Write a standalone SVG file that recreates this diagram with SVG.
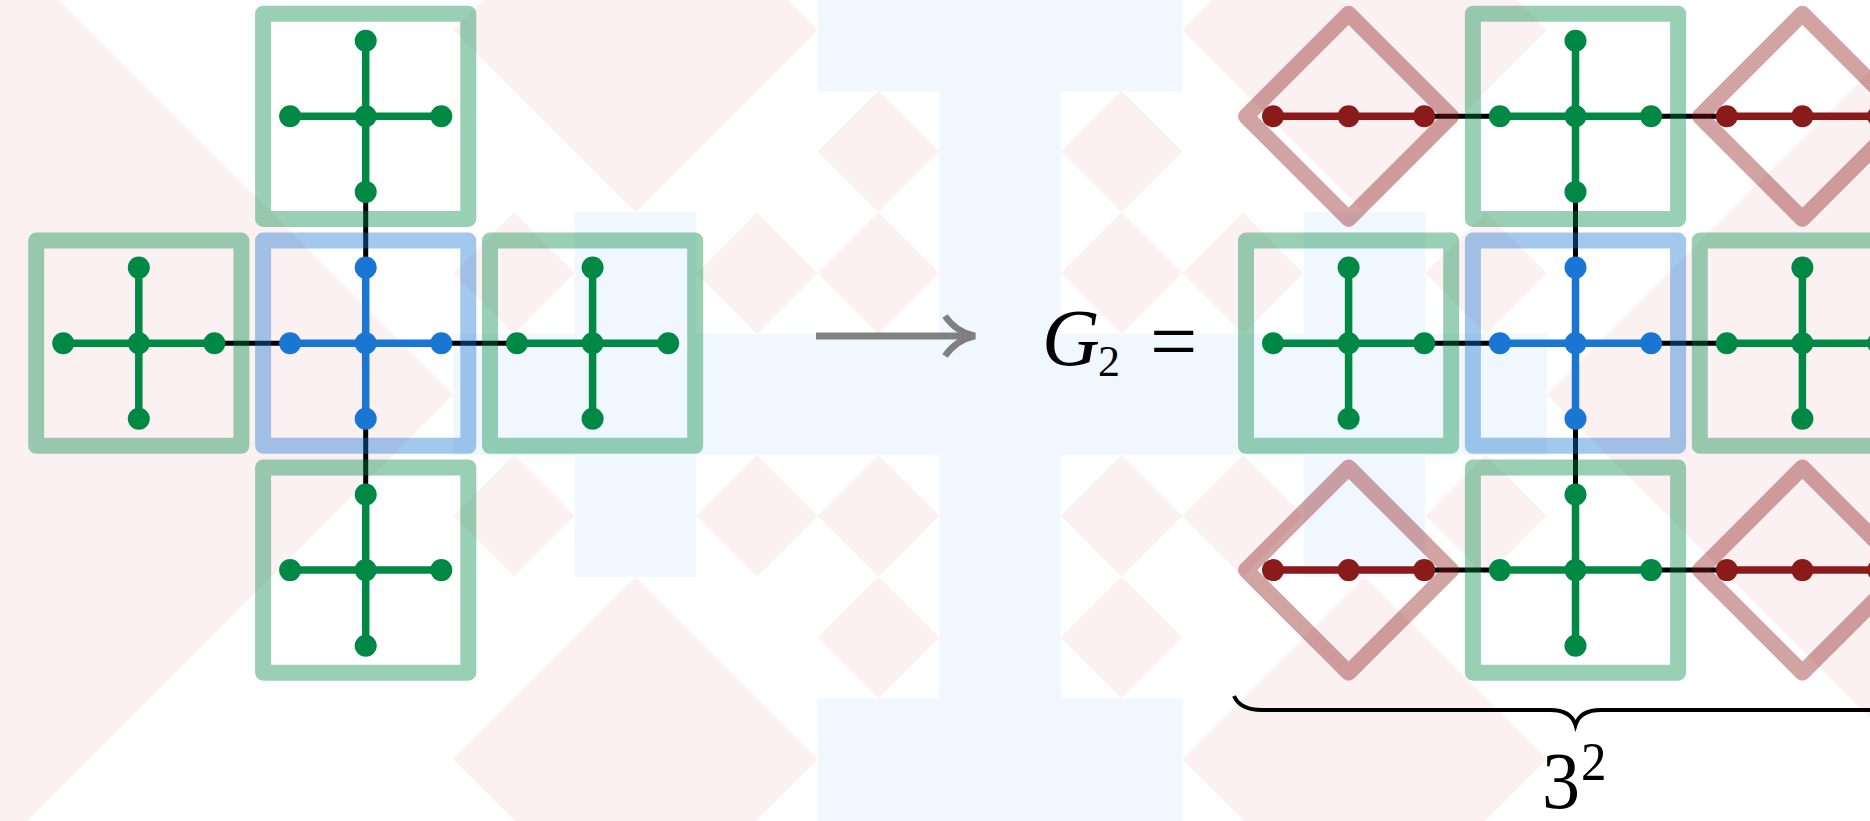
<svg xmlns="http://www.w3.org/2000/svg" width="1870" height="821" viewBox="0 0 1870 821">
<style>
.pk{fill:#fcf1f2}
.bl{fill:#f0f7fe}
.box{fill:none;stroke-width:16;stroke-linejoin:round;stroke-opacity:0.4}
.gs{stroke:#008945}.bs{stroke:#1976D2}.rs{stroke:#8B1A1A}
.gf{fill:#008945}.bf{fill:#1976D2}.rf{fill:#8B1A1A}
.e{fill:none;stroke-width:7.5}
.c{fill:none;stroke:#000;stroke-width:5}
.t{font-family:"Liberation Serif","Times New Roman",serif;fill:#000}
</style>
<defs>
<path id="sd" d="M0,-60.75 L60.75,0 L0,60.75 L-60.75,0 Z"/>
<path id="bd" d="M0,-182.25 L182.25,0 L0,182.25 L-182.25,0 Z"/>
<path id="hd" d="M0,-546.75 L546.75,0 L0,546.75 L-546.75,0 Z"/>
<g id="gcross">
<path class="e gs" d="M-75.6,0 H75.6 M0,-75.6 V75.6"/>
<circle class="gf" cx="0" cy="0" r="11"/><circle class="gf" cx="-75.6" cy="0" r="11"/><circle class="gf" cx="75.6" cy="0" r="11"/><circle class="gf" cx="0" cy="-75.6" r="11"/><circle class="gf" cx="0" cy="75.6" r="11"/>
<rect class="box gs" x="-102.6" y="-102.6" width="205.2" height="205.2"/>
</g>
<g id="bcross">
<path class="e bs" d="M-75.6,0 H75.6 M0,-75.6 V75.6"/>
<circle class="bf" cx="0" cy="0" r="11"/><circle class="bf" cx="-75.6" cy="0" r="11"/><circle class="bf" cx="75.6" cy="0" r="11"/><circle class="bf" cx="0" cy="-75.6" r="11"/><circle class="bf" cx="0" cy="75.6" r="11"/>
<rect class="box bs" x="-102.6" y="-102.6" width="205.2" height="205.2"/>
</g>
<g id="rline">
<path class="e rs" d="M-75.6,0 H75.6"/>
<circle class="rf" cx="0" cy="0" r="11"/><circle class="rf" cx="-75.6" cy="0" r="11"/><circle class="rf" cx="75.6" cy="0" r="11"/>
<path class="box rs" d="M0,-102.6 L102.6,0 L0,102.6 L-102.6,0 Z"/>
</g>
</defs>

<g id="background">
<use href="#hd" class="pk" x="-93.5" y="394.5"/>
<use href="#hd" class="pk" x="2093.5" y="394.5"/>
<use href="#bd" class="pk" x="635.5" y="30"/>
<use href="#bd" class="pk" x="1364.5" y="30"/>
<use href="#bd" class="pk" x="635.5" y="759"/>
<use href="#bd" class="pk" x="1364.5" y="759"/>
<use href="#sd" class="pk" x="878.5" y="151.5"/>
<use href="#sd" class="pk" x="1121.5" y="151.5"/>
<use href="#sd" class="pk" x="878.5" y="273.25"/>
<use href="#sd" class="pk" x="1121.5" y="273.25"/>
<use href="#sd" class="pk" x="757" y="273.25"/>
<use href="#sd" class="pk" x="1243" y="273.25"/>
<use href="#sd" class="pk" x="514" y="273.25"/>
<use href="#sd" class="pk" x="1486" y="273.25"/>
<use href="#sd" class="pk" x="514" y="515.75"/>
<use href="#sd" class="pk" x="1486" y="515.75"/>
<use href="#sd" class="pk" x="757" y="515.75"/>
<use href="#sd" class="pk" x="1243" y="515.75"/>
<use href="#sd" class="pk" x="878.5" y="515.75"/>
<use href="#sd" class="pk" x="1121.5" y="515.75"/>
<use href="#sd" class="pk" x="878.5" y="637.5"/>
<use href="#sd" class="pk" x="1121.5" y="637.5"/>
<rect class="bl" x="817.75" y="-40" width="364.5" height="131.5"/>
<rect class="bl" x="939.25" y="0" width="121.5" height="821"/>
<rect class="bl" x="817.75" y="698.25" width="364.5" height="140"/>
<rect class="bl" x="453.25" y="333.75" width="1093.5" height="121.5"/>
<rect class="bl" x="574.75" y="212.25" width="121.5" height="364.5"/>
<rect class="bl" x="1303.75" y="212.25" width="121.5" height="364.5"/>
</g>

<g id="connectors">
<path class="c" d="M365.7,191.9 V267.6 M214.4,343.2 H290.1 M441.3,343.2 H517 M365.7,418.8 V494.5"/>
<path class="c" d="M1424.2,116.3 H1499.9 M1651.1,116.3 H1726.8 M1575.5,191.9 V267.6 M1424.2,343.2 H1499.9 M1651.1,343.2 H1726.8 M1575.5,418.8 V494.5 M1424.2,570.1 H1499.9 M1651.1,570.1 H1726.8"/>
</g>

<g id="left-top"><use href="#gcross" x="365.7" y="116.3"/></g>
<g id="left-left"><use href="#gcross" x="138.8" y="343.2"/></g>
<g id="left-center"><use href="#bcross" x="365.7" y="343.2"/></g>
<g id="left-right"><use href="#gcross" x="592.6" y="343.2"/></g>
<g id="left-bottom"><use href="#gcross" x="365.7" y="570.1"/></g>

<g id="right-tl"><use href="#rline" x="1348.6" y="116.3"/></g>
<g id="right-top"><use href="#gcross" x="1575.5" y="116.3"/></g>
<g id="right-tr"><use href="#rline" x="1802.4" y="116.3"/></g>
<g id="right-left"><use href="#gcross" x="1348.6" y="343.2"/></g>
<g id="right-center"><use href="#bcross" x="1575.5" y="343.2"/></g>
<g id="right-right"><use href="#gcross" x="1802.4" y="343.2"/></g>
<g id="right-bl"><use href="#rline" x="1348.6" y="570.1"/></g>
<g id="right-bottom"><use href="#gcross" x="1575.5" y="570.1"/></g>
<g id="right-br"><use href="#rline" x="1802.4" y="570.1"/></g>

<g id="arrow">
<path d="M816,336 H971" fill="none" stroke="#808080" stroke-width="7"/>
<path d="M945,316 Q956,332 975,336 Q956,340 945,356" fill="none" stroke="#808080" stroke-width="6.5"/>
</g>

<g id="label-G2">
<text class="t" x="1042" y="365" font-size="80" font-style="italic">G</text>
<text class="t" x="1098" y="376" font-size="44">2</text>
<text class="t" x="1150" y="370" font-size="84">=</text>
</g>

<g id="brace">
<path d="M1234,696 Q1240,710 1262,710 L1550,710 Q1571,710 1575.5,725 Q1580,710 1601,710 L1889,710 Q1911,710 1917,696" fill="none" stroke="#000" stroke-width="4"/>
<g transform="translate(0,808) scale(1,1.07)">
<text class="t" x="1542" y="0" font-size="76">3</text>
<text class="t" x="1581" y="-26" font-size="51">2</text>
</g>
</g>
</svg>
